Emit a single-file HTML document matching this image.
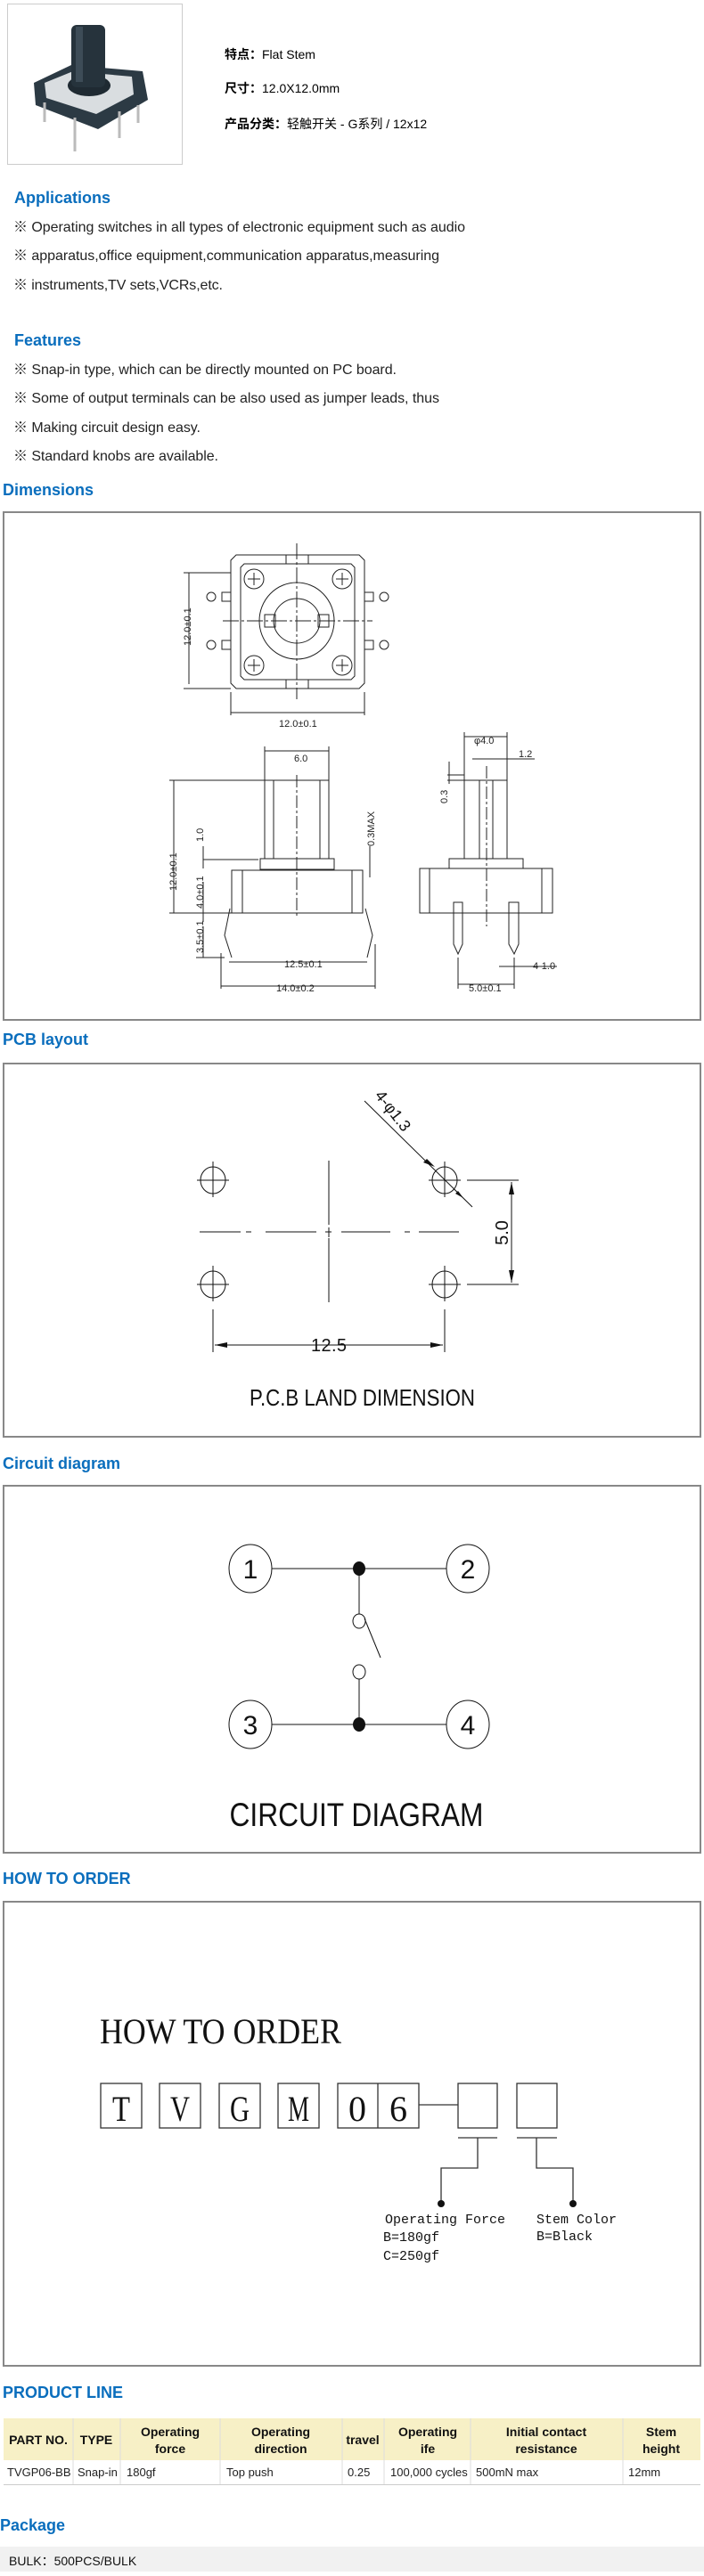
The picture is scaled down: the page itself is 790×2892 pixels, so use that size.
<!DOCTYPE html>
<html><head><meta charset="utf-8"><style>
html,body{margin:0;padding:0;background:#fff;}
body{width:790px;height:2887px;overflow:hidden;}
.sans{font-family:"Liberation Sans","Noto Sans CJK SC",sans-serif;}
.serif{font-family:"Liberation Serif",serif;}
.mono{font-family:"Liberation Mono",monospace;}
</style></head><body>
<svg width="790" height="2887" viewBox="0 0 790 2887" xmlns="http://www.w3.org/2000/svg" class="sans">
<!-- product photo -->
<rect x="8.5" y="4.5" width="196" height="180" fill="#fff" stroke="#ccc"/>
<polygon points="38,93 80,73 160,80 166,112 110,145 40,118" fill="#2c3a44"/>
<polygon points="50,93 82,80 148,86 150,106 108,128 52,110" fill="#d9dde0"/>
<ellipse cx="100" cy="96" rx="24" ry="12" fill="#1f2a32"/>
<rect x="80" y="28" width="38" height="70" rx="6" fill="#26333c"/>
<rect x="85" y="30" width="8" height="62" fill="#3d4c57"/>
<path d="M50 115 v22 M84 132 v38 M134 125 v30 M155 118 v20" stroke="#bbb" stroke-width="3"/>
<text x="252" y="66" font-size="14"><tspan font-weight="bold">特点：</tspan>Flat Stem</text>
<text x="252" y="104" font-size="14"><tspan font-weight="bold">尺寸：</tspan>12.0X12.0mm</text>
<text x="252" y="144" font-size="14"><tspan font-weight="bold">产品分类：</tspan>轻触开关 - G系列 / 12x12</text>

<g fill="#0a6ebd" font-weight="bold" font-size="18">
<text x="16" y="228">Applications</text>
<text x="16" y="388">Features</text>
<text x="3" y="556">Dimensions</text>
<text x="3" y="1173">PCB layout</text>
<text x="3" y="1649">Circuit diagram</text>
<text x="3" y="2115">HOW TO ORDER</text>
<text x="3" y="2692">PRODUCT LINE</text>
<text x="0" y="2841">Package</text>
</g>
<g font-size="16" fill="#222">
<text x="15" y="260" textLength="507">※ Operating switches in all types of electronic equipment such as audio</text>
<text x="15" y="292" textLength="478">※ apparatus,office equipment,communication apparatus,measuring</text>
<text x="15" y="325" textLength="235">※ instruments,TV sets,VCRs,etc.</text>
<text x="15" y="420" textLength="430">※ Snap-in type, which can be directly mounted on PC board.</text>
<text x="15" y="452" textLength="478">※ Some of output terminals can be also used as jumper leads, thus</text>
<text x="15" y="485" textLength="210">※ Making circuit design easy.</text>
<text x="15" y="517" textLength="230">※ Standard knobs are available.</text>
</g>

<!-- boxes -->
<g fill="none" stroke="#888" stroke-width="2">
<rect x="4" y="575" width="782" height="570"/>
<rect x="4" y="1194" width="782" height="419"/>
<rect x="4" y="1668" width="782" height="412"/>
<rect x="4" y="2135" width="782" height="521"/>
</g>

<!-- Dimensions drawing -->
<g fill="none" stroke="#222" stroke-width="1">
<path d="M265 623 H403 L409 629 V767 L403 773 H265 L259 767 V629 Z"/>
<path d="M274 633 H394 L398 637 V759 L394 763 H274 L270 759 V637 Z"/>
<rect x="321" y="623" width="25" height="10"/><rect x="321" y="763" width="25" height="10"/>
<ellipse cx="333" cy="697" rx="42" ry="43"/>
<ellipse cx="333" cy="697" rx="26" ry="25"/>
<rect x="297" y="690" width="12" height="14"/><rect x="357" y="690" width="12" height="14"/>
<circle cx="285" cy="650" r="11"/><circle cx="384" cy="650" r="11"/>
<circle cx="285" cy="747" r="11"/><circle cx="384" cy="747" r="11"/>
<path d="M333 610 V785 M250 697 H418" stroke-dasharray="18 3 3 3"/>
<path d="M278 650 h14 M285 643 v14 M377 650 h14 M384 643 v14 M278 747 h14 M285 740 v14 M377 747 h14 M384 740 v14"/>
<rect x="249" y="665" width="10" height="10"/><rect x="249" y="719" width="10" height="10"/>
<rect x="409" y="665" width="10" height="10"/><rect x="409" y="719" width="10" height="10"/>
<circle cx="237" cy="670" r="5"/><circle cx="237" cy="724" r="5"/><circle cx="431" cy="670" r="5"/><circle cx="431" cy="724" r="5"/>
<path d="M212 643 V768 M206 643 H259 M206 773 H259"/>
<path d="M259 777 V803 M409 777 V803 M259 800 H409"/>
<rect x="272" y="977" width="123" height="48"/>
<rect x="260" y="977" width="12" height="48"/><rect x="395" y="977" width="12" height="48"/>
<rect x="292" y="964" width="83" height="12"/>
<rect x="307" y="876" width="52" height="88"/>
<path d="M297 876 V964 M369 876 V964 M297 876 H369"/>
<path d="M333 870 V1030" stroke-dasharray="14 3 3 3"/>
<path d="M258 1020 L252 1050 L260 1075 M410 1020 L418 1050 L412 1075"/>
<path d="M195 876 V1025 M190 876 H307 M190 1025 H272 M297 843 H369 M297 838 V876 M369 838 V876"/>
<path d="M257 1080 H412 M248 1107 H421 M248 1070 V1110 M421 1060 V1110"/>
<path d="M228 1040 V1075 M228 1020 V1035 M220 1075 H252 M228 990 V1025 M228 950 V975 M228 965 H290 M415 950 V985"/>
<rect x="471" y="975" width="149" height="50"/>
<rect x="482" y="975" width="126" height="50"/>
<rect x="504" y="964" width="83" height="11"/>
<rect x="521" y="876" width="48" height="88"/>
<path d="M538 876 V964 M553 876 V964"/>
<path d="M546 860 V1040" stroke-dasharray="14 3 3 3"/>
<path d="M509 1013 V1060 L514 1071 L519 1060 V1013 Z M571 1013 V1060 L577 1071 L582 1060 V1013 Z"/>
<path d="M521 822 V876 M569 822 V876 M521 827 H569 M530 852 H600 M502 876 H569 M502 870 H521 M504 855 V880"/>
<path d="M514 1075 V1110 M577 1075 V1110 M514 1105 H577 M560 1085 H625"/>
</g>
<g font-size="11" fill="#222">
<text x="313" y="816">12.0±0.1</text>
<text x="330" y="855">6.0</text>
<text x="319" y="1086">12.5±0.1</text>
<text x="310" y="1113">14.0±0.2</text>
<text x="532" y="835">φ4.0</text>
<text x="582" y="850">1.2</text>
<text x="526" y="1113">5.0±0.1</text>
<text x="598" y="1088">4-1.0</text>
<text transform="translate(214,725) rotate(-90)">12.0±0.1</text>
<text transform="translate(198,1000) rotate(-90)">12.0±0.1</text>
<text transform="translate(228,945) rotate(-90)">1.0</text>
<text transform="translate(228,1020) rotate(-90)">4.0±0.1</text>
<text transform="translate(228,1070) rotate(-90)">3.5±0.1</text>
<text transform="translate(420,950) rotate(-90)">0.3MAX</text>
<text transform="translate(502,902) rotate(-90)">0.3</text>
</g>

<!-- PCB -->
<g fill="none" stroke="#111" stroke-width="1">
<ellipse cx="239" cy="1325" rx="14" ry="15"/><ellipse cx="499" cy="1325" rx="14" ry="15"/>
<ellipse cx="239" cy="1442" rx="14" ry="15"/><ellipse cx="499" cy="1442" rx="14" ry="15"/>
<path d="M221 1325 h36 M239 1304 v40 M481 1325 h36 M499 1304 v40 M221 1442 h36 M239 1421 v40 M481 1442 h36 M499 1421 v40"/>
<path d="M224 1383 H270 M276 1383 H282 M298 1383 H355 M365 1383 H372 M383 1383 H438 M454 1383 H460 M470 1383 H515"/>
<path d="M369 1303 V1375 M369 1390 V1462 M369 1378 V1389"/>
<path d="M524 1325 H582 M524 1442 H582 M574 1327 V1440"/>
<path d="M239 1470 V1518 M499 1470 V1518 M241 1510 H497"/>
<path d="M409 1236 L530 1355"/>
</g>
<g fill="#111">
<path d="M574 1327 l-3 14 h6 Z M574 1440 l-3 -14 h6 Z M241 1510 l14 -3 v6 Z M497 1510 l-14 -3 v6 Z M488 1310 l-9 -9 l-4 4 Z M520 1345 l-6 -8 l-3 3 Z"/>
</g>
<g fill="#111" font-size="20">
<text x="369" y="1517" text-anchor="middle" textLength="40">12.5</text>
<text transform="translate(570,1384) rotate(-90)" text-anchor="middle">5.0</text>
<text transform="translate(420,1230) rotate(52)" font-size="18">4-φ1.3</text>
<text x="280" y="1578" font-size="26" textLength="253" lengthAdjust="spacingAndGlyphs">P.C.B LAND DIMENSION</text>
</g>

<!-- Circuit -->
<g fill="none" stroke="#111" stroke-width="1">
<ellipse cx="281" cy="1761" rx="24" ry="27"/><ellipse cx="525" cy="1761" rx="24" ry="27"/>
<ellipse cx="281" cy="1936" rx="24" ry="27"/><ellipse cx="525" cy="1936" rx="24" ry="27"/>
<path d="M305 1761 H501 M305 1936 H501 M403 1761 V1812 M403 1885 V1936 M409 1817 L427 1861"/>
<ellipse cx="403" cy="1820" rx="7" ry="8"/><ellipse cx="403" cy="1877" rx="7" ry="8"/>
</g>
<ellipse cx="403" cy="1761" rx="7" ry="8" fill="#111"/><ellipse cx="403" cy="1936" rx="7" ry="8" fill="#111"/>
<g font-size="30" fill="#111" text-anchor="middle">
<text x="281" y="1772">1</text><text x="525" y="1772">2</text><text x="281" y="1947">3</text><text x="525" y="1947">4</text>
<text x="400" y="2050" font-size="37" textLength="285" lengthAdjust="spacingAndGlyphs">CIRCUIT DIAGRAM</text>
</g>

<!-- How to order -->
<text class="serif" x="112" y="2294" font-size="40" textLength="271" lengthAdjust="spacingAndGlyphs" fill="#111">HOW  TO  ORDER</text>
<g fill="none" stroke="#333" stroke-width="1.3">
<rect x="113" y="2339" width="46" height="50"/><rect x="179" y="2339" width="46" height="50"/>
<rect x="246" y="2339" width="46" height="50"/><rect x="312" y="2339" width="46" height="50"/>
<rect x="379" y="2339" width="91" height="50"/><path d="M424 2339 V2389"/>
<rect x="514" y="2339" width="44" height="50"/><rect x="580" y="2339" width="45" height="50"/>
<path d="M470 2363 H514 M514 2400 H558 M580 2400 H625 M536 2400 V2434 H495 V2474 M602 2400 V2434 H643 V2474"/>
</g>
<circle cx="495" cy="2474" r="4" fill="#111"/><circle cx="643" cy="2474" r="4" fill="#111"/>
<g class="serif" font-size="40" fill="#111" text-anchor="middle">
<text x="136" y="2381" textLength="20" lengthAdjust="spacingAndGlyphs">T</text>
<text x="202" y="2381" textLength="22" lengthAdjust="spacingAndGlyphs">V</text>
<text x="269" y="2381" textLength="22" lengthAdjust="spacingAndGlyphs">G</text>
<text x="335" y="2381" textLength="24" lengthAdjust="spacingAndGlyphs">M</text>
<text x="401" y="2381" textLength="20" lengthAdjust="spacingAndGlyphs">0</text>
<text x="447" y="2381" textLength="20" lengthAdjust="spacingAndGlyphs">6</text>
</g>
<g class="mono" font-size="15" fill="#111">
<text x="432" y="2496">Operating Force</text>
<text x="430" y="2516">B=180gf</text>
<text x="430" y="2537">C=250gf</text>
<text x="602" y="2496">Stem Color</text>
<text x="602" y="2515">B=Black</text>
</g>

<!-- table -->
<rect x="4" y="2715" width="782" height="47" fill="#f7f0c6"/>
<path d="M4 2789.5 H786" stroke="#ccc"/>
<path d="M82 2715 V2789 M135 2715 V2789 M247 2715 V2789 M384 2715 V2789 M431 2715 V2789 M528 2715 V2789 M699 2715 V2789" stroke="#ddd"/>
<g font-size="14" font-weight="bold" fill="#111" text-anchor="middle">
<text x="43" y="2744">PART NO.</text>
<text x="108" y="2744">TYPE</text>
<text x="191" y="2735">Operating</text><text x="191" y="2754">force</text>
<text x="315" y="2735">Operating</text><text x="315" y="2754">direction</text>
<text x="407" y="2744">travel</text>
<text x="480" y="2735">Operating</text><text x="480" y="2754">ife</text>
<text x="613" y="2735">Initial contact</text><text x="613" y="2754">resistance</text>
<text x="742" y="2735">Stem</text><text x="742" y="2754">height</text>
</g>
<g font-size="13" fill="#222">
<text x="8" y="2780">TVGP06-BB</text><text x="87" y="2780">Snap-in</text><text x="142" y="2780">180gf</text>
<text x="254" y="2780">Top push</text><text x="390" y="2780">0.25</text><text x="438" y="2780">100,000 cycles</text>
<text x="534" y="2780">500mN max</text><text x="705" y="2780">12mm</text>
</g>
<rect x="0" y="2859" width="790" height="28" fill="#f1f1f1"/>
<text x="10" y="2880" font-size="14" fill="#111">BULK：500PCS/BULK</text>
</svg>
</body></html>
